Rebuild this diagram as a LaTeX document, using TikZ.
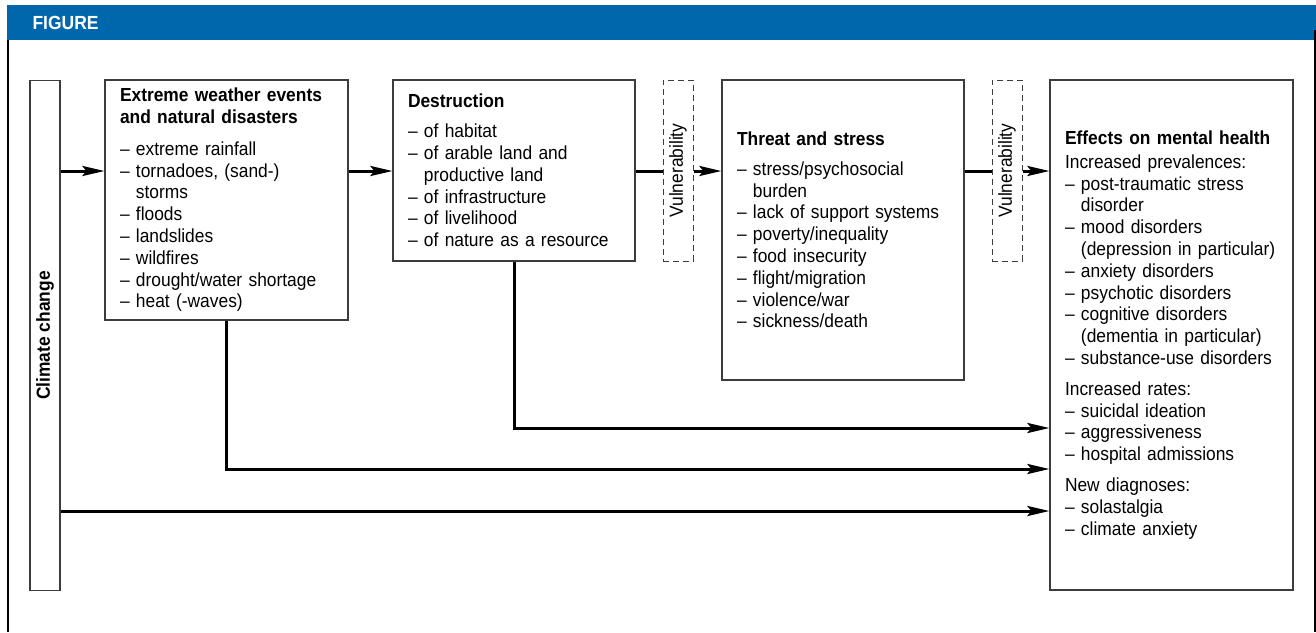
\documentclass[tikz,border=0pt]{standalone}
\usepackage{fontspec}
\usepackage{graphicx}
\usepackage{tikz}
\setmainfont{Liberation Sans}[FakeStretch = 0.92]
\usetikzlibrary{arrows.meta}
\definecolor{figblue}{RGB}{0,103,172}
\definecolor{boxgray}{RGB}{60,60,60}
\tikzset{box/.style = {draw = boxgray, line width = 1.2pt, inner xsep = 15pt, inner ysep = 0pt, align = left, font = \fontsize{18.9}{21.8}\selectfont}}
\tikzset{vbox/.style = {draw = boxgray, line width = 1pt, dash pattern = on 6pt off 4pt, minimum width = 30pt, minimum height = 181pt, inner sep = 0pt, font = \fontsize{18.9}{21.8}\selectfont}}
\tikzset{flow/.style = {line width = 3pt, -{Stealth[length = 22pt, width = 10pt, inset = 4pt]}}}
\tikzset{link/.style = {line width = 3pt}}
\newcommand{\cont}{\hphantom{-- }}
\newcommand{\hd}[1]{\textbf{#1}}

\begin{document}
\begin{tikzpicture}[x = 1pt, y = -1pt]
      \useasboundingbox (0, 0) rectangle (1316, 632);

      % header bar and frame
      \fill [figblue] (7, 5) rectangle (1316, 40);
      \node [anchor = west, text = white, font = \bfseries\fontsize{19}{20}\selectfont] (title) at (29, 23) {FIGURE};
      \draw [line width = 2pt] (8, 40) -- (8, 632);
      \draw [line width = 2pt] (1314.5, 30) -- (1314.5, 632);

      % boxes
      \node [box, inner xsep = 0pt, minimum width = 30pt, minimum height = 510pt] (climate) at (45, 335.5) {\rotatebox{90}{\bfseries Climate change}};

      \node [box, text width = 213pt, minimum height = 240pt] (extreme) at (226.5, 200) {
        \hd{Extreme weather events}\\
        \hd{and natural disasters}\\[10pt]
        -- extreme rainfall\\
        -- tornadoes, (sand-)\\
        \cont storms\\
        -- floods\\
        -- landslides\\
        -- wildfires\\
        -- drought/water shortage\\
        -- heat (-waves)};

      \node [box, text width = 212pt, minimum height = 181pt] (destruction) at (514, 170.5) {
        \hd{Destruction}\\[8pt]
        -- of habitat\\
        -- of arable land and\\
        \cont productive land\\
        -- of infrastructure\\
        -- of livelihood\\
        -- of nature as a resource};

      \node [vbox] (vuln1) at (678, 170.5) {\rotatebox{90}{Vulnerability}};

      \node [box, text width = 212pt, minimum height = 300pt] (threat) at (843, 230) {
        \hd{Threat and stress}\\[8pt]
        -- stress/psychosocial\\
        \cont burden\\
        -- lack of support systems\\
        -- poverty/inequality\\
        -- food insecurity\\
        -- flight/migration\\
        -- violence/war\\
        -- sickness/death};

      \node [vbox] (vuln2) at (1007, 170.5) {\rotatebox{90}{Vulnerability}};

      \node [box, text width = 213pt, minimum height = 510pt] (effects) at (1171.5, 335) {
        \hd{Effects on mental health}\\[2pt]
        Increased prevalences:\\
        -- post-traumatic stress\\
        \cont disorder\\
        -- mood disorders\\
        \cont (depression in particular)\\
        -- anxiety disorders\\
        -- psychotic disorders\\
        -- cognitive disorders\\
        \cont (dementia in particular)\\
        -- substance-use disorders\\[9pt]
        Increased rates:\\
        -- suicidal ideation\\
        -- aggressiveness\\
        -- hospital admissions\\[9pt]
        New diagnoses:\\
        -- solastalgia\\
        -- climate anxiety};

      % connectors
      \coordinate (row) at (0, 171);
      \coordinate (r1) at (0, 428);
      \coordinate (r2) at (0, 469);
      \coordinate (r3) at (0, 511);

      \draw [flow] (climate.east |- row) -- (extreme.west |- row);
      \draw [flow] (extreme.east |- row) -- (destruction.west |- row);
      \draw [link] (destruction.east |- row) -- (vuln1.west |- row);
      \draw [flow] (vuln1.east |- row) -- (threat.west |- row);
      \draw [link] (threat.east |- row) -- (vuln2.west |- row);
      \draw [flow] (vuln2.east |- row) -- (effects.west |- row);

      \draw [flow] (destruction.south) |- (effects.west |- r1);
      \draw [flow] (extreme.south) |- (effects.west |- r2);
      \draw [flow] (climate.east |- r3) -- (effects.west |- r3);
\end{tikzpicture}
\end{document}
